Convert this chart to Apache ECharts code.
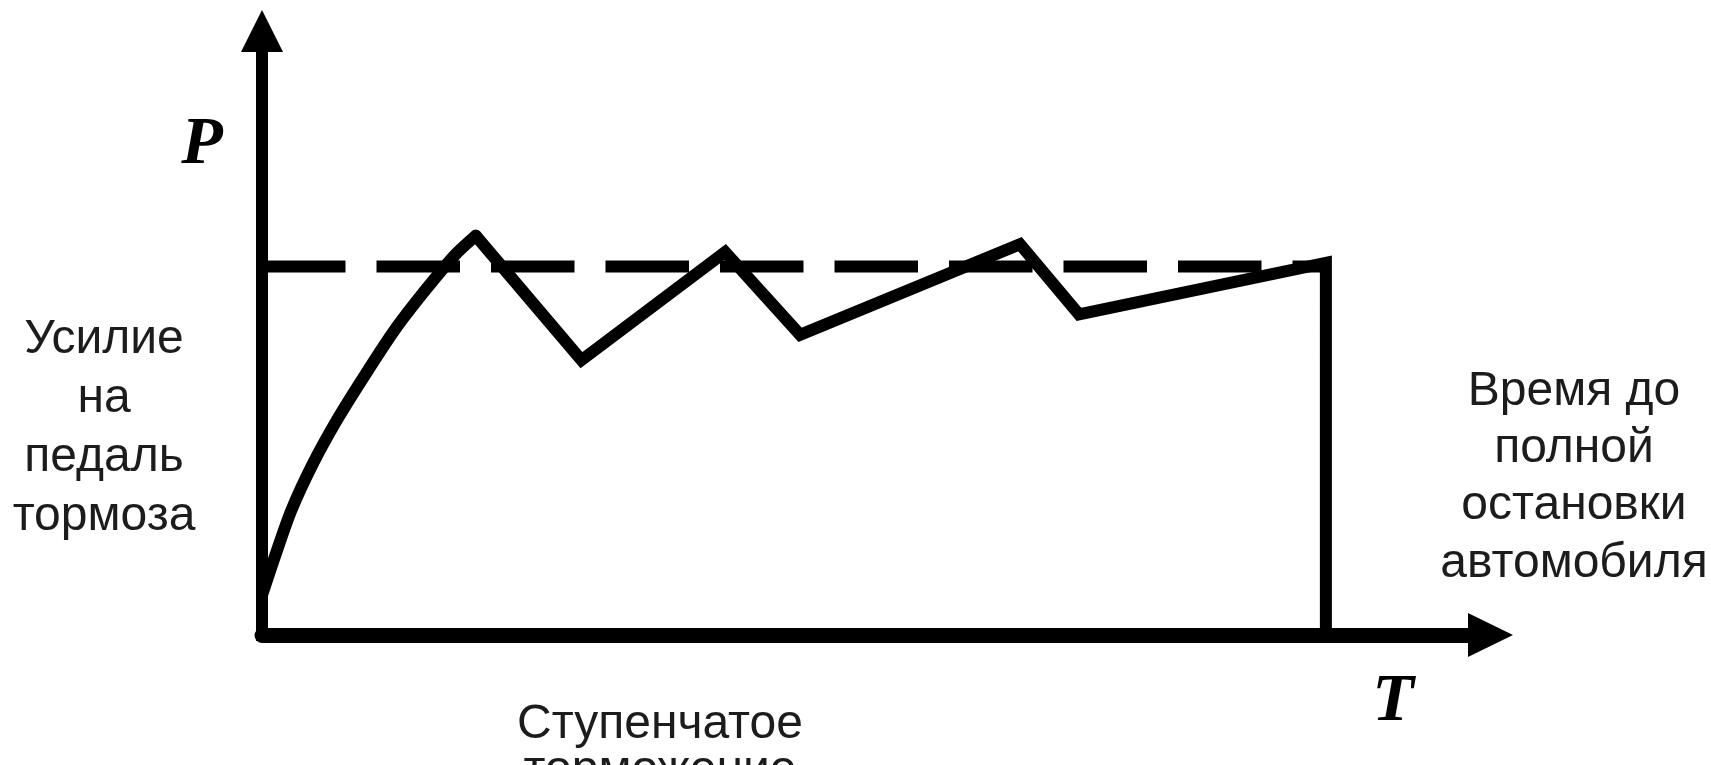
<!DOCTYPE html>
<html>
<head>
<meta charset="utf-8">
<script src="https://cdn.jsdelivr.net/npm/echarts@6/dist/echarts.min.js"></script>
<style>
  html, body { margin: 0; padding: 0; background: #ffffff; }
  #chart { width: 1711px; height: 765px; }
</style>
</head>
<body>
<div id="chart"></div>
<script>
// ---- data (schematic units: time 0..100, pedal force 0..100) ----
const axisRangeT = [0, 100];
const axisRangeP = [0, 100];
// initial rise of pedal force
const riseT = [-1.0, 0.0, 1.1, 2.4, 4.1, 6.1, 8.4, 10.8, 13.3, 15.7, 17.4];
const riseP = [0.3, 6.6, 13.3, 20.7, 28.2, 35.6, 43.1, 50.5, 57.1, 62.9, 66.1];
// stepwise (pulsed) braking after the first peak, then release at stop
const stepT = [17.4, 26.0, 37.7, 43.8, 61.7, 66.5, 86.6, 86.6];
const stepP = [66.1, 45.5, 63.4, 49.7, 64.7, 53.1, 61.6, 0];
// reference (dashed) level
const levelT = [0, 86.6];
const levelP = [61, 61];
// texts
const yAxisSymbol = 'P';
const xAxisSymbol = 'T';
const leftLabel = ['Усилие', 'на', 'педаль', 'тормоза'];
const rightLabel = ['Время до', 'полной', 'остановки', 'автомобиля'];
const bottomLabel = ['Ступенчатое', 'торможение'];

const riseData = riseT.map((t, i) => [t, riseP[i]]);
const stepData = stepT.map((t, i) => [t, stepP[i]]);
const levelData = levelT.map((t, i) => [t, levelP[i]]);

const chart = echarts.init(document.getElementById('chart'), null, { renderer: 'canvas' });
const textColor = '#1c1c1c';
const sansFont = '48px "Liberation Sans", Arial, sans-serif';
const serifFont = 'italic bold 68px "Liberation Serif", "Times New Roman", serif';

chart.setOption({
  animation: false,
  backgroundColor: '#ffffff',
  grid: { left: 262, right: 220.5, top: 31, bottom: 130, containLabel: false, outerBoundsMode: 'none' },
  xAxis: {
    type: 'value', min: axisRangeT[0], max: axisRangeT[1],
    axisLine: { show: true, onZero: false, symbol: ['none', 'triangle'], symbolSize: [44, 45],
      lineStyle: { color: '#000000', width: 15 } },
    axisTick: { show: false }, axisLabel: { show: false }, splitLine: { show: false }
  },
  yAxis: {
    type: 'value', min: axisRangeP[0], max: axisRangeP[1],
    axisLine: { show: true, onZero: false, symbol: ['none', 'triangle'], symbolSize: [42, 42],
      lineStyle: { color: '#000000', width: 12, cap: 'square' } },
    axisTick: { show: false }, axisLabel: { show: false }, splitLine: { show: false }
  },
  series: [
    {
      type: 'line', data: levelData, symbol: 'none', clip: false, silent: true,
      lineStyle: { color: '#000000', width: 12, type: [83.5, 31] }, z: 2
    },
    {
      type: 'line', data: riseData, symbol: 'none', clip: false, silent: true,
      smooth: 0.3,
      lineStyle: { color: '#000000', width: 12, cap: 'round', join: 'round' }, z: 3
    },
    {
      type: 'line', data: stepData, symbol: 'none', clip: false, silent: true,
      lineStyle: { color: '#000000', width: 12, cap: 'round', join: 'miter' }, z: 3
    }
  ],
  graphic: [
    { type: 'text', x: 202, y: 145, style: { text: yAxisSymbol, font: serifFont, fill: '#000', align: 'center', verticalAlign: 'middle', textAlign: 'center', textVerticalAlign: 'middle' } },
    { type: 'text', x: 1393, y: 702, style: { text: xAxisSymbol, font: serifFont, fill: '#000', align: 'center', verticalAlign: 'middle', textAlign: 'center', textVerticalAlign: 'middle' } },
    { type: 'text', x: 104, y: 428, style: { text: leftLabel.join('\n'), font: sansFont, fill: textColor, lineHeight: 59, align: 'center', verticalAlign: 'middle', textAlign: 'center', textVerticalAlign: 'middle' } },
    { type: 'text', x: 1574, y: 477.5, style: { text: rightLabel.join('\n'), font: sansFont, fill: textColor, lineHeight: 57.3, align: 'center', verticalAlign: 'middle', textAlign: 'center', textVerticalAlign: 'middle' } },
    { type: 'text', x: 660, y: 747.5, style: { text: bottomLabel.join('\n'), font: sansFont, fill: textColor, lineHeight: 46, align: 'center', verticalAlign: 'middle', textAlign: 'center', textVerticalAlign: 'middle' } }
  ]
});
</script>
</body>
</html>
